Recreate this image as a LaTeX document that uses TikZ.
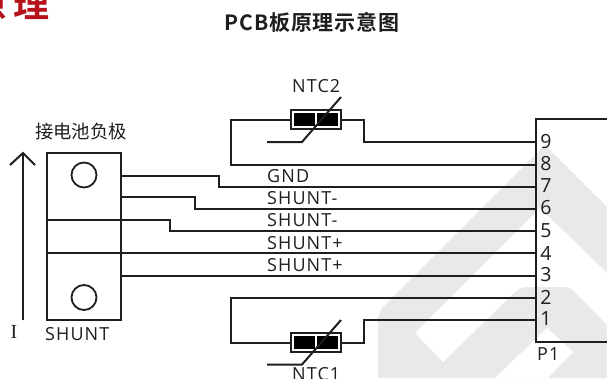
\documentclass[tikz,border=0pt]{standalone}
\usepackage{fontspec}
\setmainfont{Open Sans}[LetterSpace=6]
\newfontfamily\plainsans{Open Sans}
\newfontfamily\serifi{Liberation Serif}
\newfontfamily\cjk{Noto Sans CJK SC}
\newfontfamily\cjkb{Noto Sans CJK SC Bold}[LetterSpace=4]
\definecolor{wm}{HTML}{E9E9E9}
\definecolor{ink}{HTML}{1E1E1E}
\definecolor{brand}{HTML}{B5121B}
\tikzset{
  wire/.style={draw=ink,line width=2pt,line join=miter},
  lbl/.style={anchor=base west,inner sep=0pt,text=ink,font=\fontsize{18}{18}\selectfont},
  pin/.style={anchor=center,inner sep=0pt,text=ink,font=\plainsans\fontsize{19.5}{20}\selectfont},
  ntcbox/.style={draw=ink,line width=2pt,fill=white,minimum width=50pt,minimum height=19pt,inner sep=0pt},
  ntcfill/.style={fill=black,draw=none,minimum width=21pt,minimum height=13pt,inner sep=0pt},
  hole/.style={circle,draw=ink,line width=1.8pt,minimum size=25pt,inner sep=0pt},
}
\begin{document}
\begin{tikzpicture}[x=1pt,y=-1pt]
\useasboundingbox (0,0) rectangle (607,378);
% watermark
\fill[wm] (545,145) -- (607,207) -- (607,378) -- (378,378) -- (378,322)
  .. controls (378,317) and (379,313) .. (382,308) -- cycle;
\fill[white] (540,208) -- (415,333) -- (443,362) -- (516,291)
  .. controls (520,288) and (523,287) .. (527,287) -- (563,287)
  .. controls (568,287) and (571,288) .. (574,291) -- (607,325) -- (607,273) -- cycle;
\fill[white] (547,328) -- (573,352) -- (548,378) -- (495,378) -- cycle;
% shunt
\node[draw=ink,line width=2pt,minimum width=74pt,minimum height=167pt,inner sep=0pt] (shunt) at (84,236.5) {};
\node[hole] (h1) at (84,175) {};
\node[hole] (h2) at (84,297.5) {};
\coordinate (sa) at (47,220); \coordinate (sb) at (47,253);
% connector P1
\coordinate (ptl) at (607,119); \coordinate (pbr) at (607,342);
\coordinate (p9) at (536,142); \coordinate (p8) at (536,164.5);
\coordinate (p7) at (536,187); \coordinate (p6) at (536,209);
\coordinate (p5) at (536,231); \coordinate (p4) at (536,253);
\coordinate (p3) at (536,275.5); \coordinate (p2) at (536,298);
\coordinate (p1) at (536,320);
\draw[wire] (ptl) -- (536,119) -- (536,342) -- (pbr);
% NTC
\node[ntcbox] (n2) at (316,119.5) {};
\node[ntcbox] (n1) at (316,342.5) {};
\foreach \n/\y in {n2/119.5,n1/342.5}{
  \node[ntcfill] (\n a) at (304.5,\y) {};
  \node[ntcfill] (\n b) at (327,\y) {};
}
% wires
\draw[wire] (121,175.5) -- (219,175.5) -- (219,187) -- (p7);
\draw[wire] (121,197) -- (195,197) -- (195,209) -- (p6);
\draw[wire] (sa) -- (170,220) -- (170,231) -- (p5);
\draw[wire] (sb) -- (p4);
\draw[wire] (121,275.5) -- (p3);
\draw[wire] (n2.west) -- (231,119.5) -- (231,164.5) -- (p8);
\draw[wire] (n2.east) -- (364,119.5) -- (364,142) -- (p9);
\draw[wire] (n1.west) -- (231,342.5) -- (231,298) -- (p2);
\draw[wire] (n1.east) -- (364,342.5) -- (364,320) -- (p1);
\draw[wire] (341,97) -- (302,142) -- (267,142);
\draw[wire] (341,320) -- (302,364.5) -- (267,364.5);
% arrow
\coordinate (ia) at (23,320); \coordinate (ib) at (23,153);
\draw[wire] (ia) -- (ib);
\draw[wire] (10,165) -- (ib) -- (35,165);
% labels
\node[lbl] (tgnd) at (267,182) {GND};
\node[lbl] (ts1) at (267,204) {SHUNT-};
\node[lbl] (ts2) at (267,226) {SHUNT-};
\node[lbl] (ts3) at (267,249) {SHUNT+};
\node[lbl] (ts4) at (267,271) {SHUNT+};
\node[lbl] (tsh) at (45,340.5) {SHUNT};
\node[lbl] (tn2) at (292,92.5) {NTC2};
\node[lbl] (tn1) at (292,380) {NTC1};
\node[lbl] (tp1) at (537,360.5) {P1};
\node[anchor=center,inner sep=0pt,text=ink,font=\serifi\fontsize{20}{20}\selectfont] (ti) at (14,332) {I};
\foreach \t/\y in {9/142,8/163.5,7/186,6/208,5/231,4/253,3/275,2/297,1/319}{
  \node[pin] (d\t) at (546,\y) {\t};
}
\node[anchor=center,inner sep=0pt,text=ink,font=\cjk\fontsize{18.4}{19}\selectfont] (tneg) at (81,132) {接电池负极};
\node[anchor=center,inner sep=0pt,text=ink] (title) at (312,22) {\cjkb\fontsize{21}{22}\selectfont PCB板原理示意图};
\node[anchor=east,inner sep=0pt,text=brand] (brandt) at (50,5) {\cjkb\fontsize{36}{36}\selectfont 原\,理};
\end{tikzpicture}
\end{document}
